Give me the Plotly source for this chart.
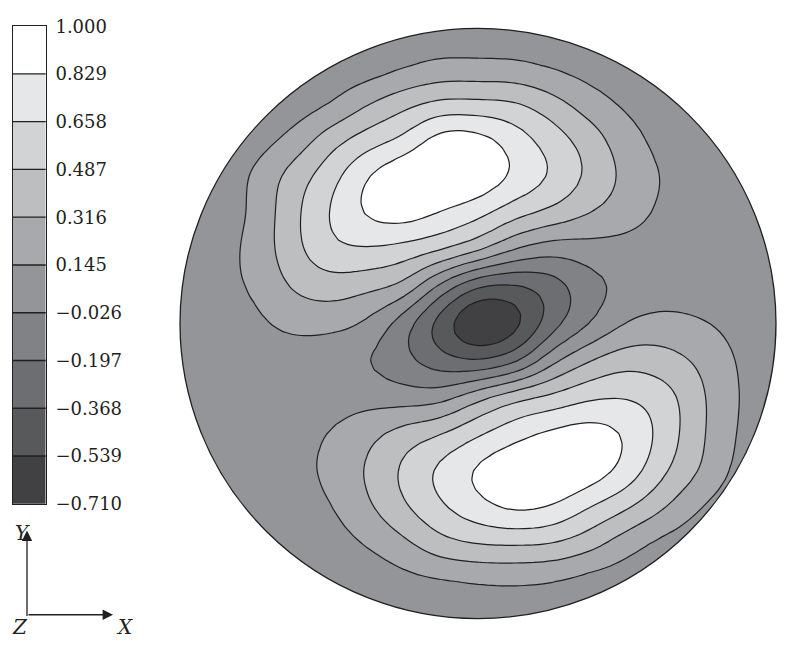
import numpy as np
import plotly.graph_objects as go

# Contour levels of the field; they are also the bands of the legend bar
levels = [-0.710, -0.539, -0.368, -0.197, -0.026, 0.145, 0.316, 0.487, 0.658, 0.829, 1.000]
band_colors = ["#414042", "#58595b", "#6d6e71", "#808285", "#939598",
               "#a7a9ac", "#bcbec0", "#d1d3d4", "#e6e7e8", "#ffffff"]
tick_labels = ["\u22120.710", "\u22120.539", "\u22120.368", "\u22120.197", "\u22120.026",
               "0.145", "0.316", "0.487", "0.658", "0.829", "1.000"]

# Sampling grid in normalised coordinates (the disc has radius 1)
x_grid = [-1.0, -0.875, -0.75, -0.625, -0.5, -0.375, -0.25, -0.125, 0.0,
          0.125, 0.25, 0.375, 0.5, 0.625, 0.75, 0.875, 1.0]
y_grid = [1.0, 0.875, 0.75, 0.625, 0.5, 0.375, 0.25, 0.125, 0.0,
          -0.125, -0.25, -0.375, -0.5, -0.625, -0.75, -0.875, -1.0]  # top row first

# Field values on the grid, one row per y_grid entry (left to right along x_grid)
field = [
    [0.03, 0.03, 0.03, 0.03, 0.03, 0.03, 0.03, 0.03, 0.03, 0.03, 0.03, 0.03, 0.03, 0.03, 0.03, 0.03, 0.03],
    [0.03, 0.03, 0.03, 0.03, 0.04, 0.05, 0.12, 0.18, 0.18, 0.17, 0.12, 0.07, 0.04, 0.03, 0.03, 0.03, 0.03],
    [0.03, 0.03, 0.03, 0.05, 0.13, 0.29, 0.42, 0.51, 0.51, 0.49, 0.37, 0.22, 0.11, 0.06, 0.03, 0.03, 0.03],
    [0.03, 0.03, 0.07, 0.19, 0.40, 0.56, 0.69, 0.90, 0.89, 0.74, 0.57, 0.40, 0.21, 0.09, 0.05, 0.03, 0.03],
    [0.03, 0.04, 0.17, 0.38, 0.58, 0.82, 0.97, 1.00, 0.96, 0.80, 0.64, 0.45, 0.27, 0.13, 0.07, 0.04, 0.03],
    [0.03, 0.05, 0.18, 0.43, 0.66, 0.85, 0.91, 0.82, 0.71, 0.55, 0.44, 0.32, 0.22, 0.11, 0.07, 0.05, 0.03],
    [0.04, 0.08, 0.20, 0.42, 0.61, 0.64, 0.59, 0.50, 0.35, 0.14, 0.04, 0.07, 0.08, 0.06, 0.05, 0.04, 0.03],
    [0.04, 0.10, 0.165, 0.33, 0.40, 0.36, 0.27, -0.08, -0.37, -0.40, -0.28, -0.09, 0.02, 0.04, 0.05, 0.05, 0.04],
    [0.04, 0.07, 0.11, 0.19, 0.20, 0.12, -0.12, -0.45, -0.72, -0.60, -0.27, -0.03, 0.15, 0.21, 0.16, 0.09, 0.04],
    [0.04, 0.05, 0.06, 0.06, 0.03, -0.02, -0.15, -0.30, -0.37, -0.24, 0.10, 0.31, 0.42, 0.38, 0.28, 0.13, 0.04],
    [0.04, 0.06, 0.06, 0.07, 0.07, 0.08, 0.06, 0.08, 0.27, 0.44, 0.53, 0.63, 0.65, 0.56, 0.34, 0.145, 0.04],
    [0.04, 0.05, 0.07, 0.09, 0.15, 0.26, 0.39, 0.49, 0.64, 0.77, 0.87, 0.91, 0.81, 0.59, 0.34, 0.13, 0.04],
    [0.03, 0.04, 0.05, 0.09, 0.18, 0.33, 0.52, 0.70, 0.86, 0.97, 1.00, 0.93, 0.76, 0.51, 0.30, 0.10, 0.03],
    [0.03, 0.03, 0.04, 0.07, 0.13, 0.28, 0.46, 0.63, 0.77, 0.86, 0.81, 0.65, 0.50, 0.32, 0.14, 0.04, 0.03],
    [0.03, 0.03, 0.03, 0.04, 0.07, 0.15, 0.27, 0.42, 0.48, 0.49, 0.47, 0.37, 0.21, 0.09, 0.04, 0.03, 0.03],
    [0.03, 0.03, 0.03, 0.03, 0.03, 0.04, 0.09, 0.12, 0.15, 0.16, 0.14, 0.08, 0.05, 0.03, 0.03, 0.03, 0.03],
    [0.03, 0.03, 0.03, 0.03, 0.03, 0.03, 0.03, 0.03, 0.03, 0.03, 0.03, 0.03, 0.03, 0.03, 0.03, 0.03, 0.03],
]

INK = "#231f20"
W, H = 789, 647
step = levels[1] - levels[0]


def cubic_resample(a, coords, factor, axis):
    """Catmull-Rom resampling of grid samples along one axis (for smooth isolines)."""
    a = np.asarray(a, dtype=float)
    n = a.shape[axis]
    t = np.linspace(0, n - 1, (n - 1) * factor + 1)
    i = np.clip(np.floor(t).astype(int), 0, n - 2)
    f = t - i
    clip = lambda k: np.clip(k, 0, n - 1)
    p0, p1, p2, p3 = (np.take(a, clip(i + d), axis=axis) for d in (-1, 0, 1, 2))
    f = f[:, None] if axis == 0 else f[None, :]
    out = 0.5 * (2 * p1 + (p2 - p0) * f + (2 * p0 - 5 * p1 + 4 * p2 - p3) * f ** 2
                 + (3 * p1 - p0 - 3 * p2 + p3) * f ** 3)
    return out, np.interp(t, np.arange(n), coords)


def soften(a, sigma=1.0, radius=3):
    """Light separable Gaussian pass on the resampled field."""
    k = np.exp(-0.5 * (np.arange(-radius, radius + 1) / sigma) ** 2)
    k /= k.sum()
    for axis in (0, 1):
        pad = [(0, 0), (0, 0)]
        pad[axis] = (radius, radius)
        ap = np.pad(a, pad, mode="edge")
        a = sum(w * np.take(ap, np.arange(j, j + a.shape[axis]), axis=axis)
                for j, w in enumerate(k))
    return a


z_rows = np.asarray(field[::-1])
y_up = y_grid[::-1]
z_s, y_s = cubic_resample(z_rows, y_up, 4, axis=0)
z_s, x_s = cubic_resample(z_s, x_grid, 4, axis=1)
z_s = soften(z_s, sigma=1.0)
z_s = np.clip(z_s, levels[0] + 0.002, levels[-1] - 0.002)

# Filled-contour colours: plotly samples the scale at band centres,
# i.e. at (k + 1) / n for band k, with n = number of levels.
n_lv = len(levels)
ext_colors = [band_colors[0]] + band_colors + [band_colors[-1]]
contour_scale = []
for idx, col in enumerate(ext_colors):
    lo = max(0.0, (idx - 0.5) / n_lv)
    hi = min(1.0, (idx + 0.5) / n_lv)
    contour_scale += [[lo, col], [hi, col]]

# Step scale for the legend bar (value space)
zlo, zhi = levels[0], levels[-1]
bar_scale = []
for i, col in enumerate(band_colors):
    bar_scale += [[(levels[i] - zlo) / (zhi - zlo), col],
                  [(levels[i + 1] - zlo) / (zhi - zlo), col]]
bar_mid = [[(levels[i] + levels[i + 1]) / 2] for i in range(len(band_colors))]

fig = go.Figure()

fig.add_trace(go.Contour(
    x=x_s, y=y_s, z=z_s,
    autocontour=False,
    contours=dict(start=levels[0], end=levels[-1] + 0.0005, size=step,
                  coloring="fill", showlines=True),
    colorscale=contour_scale, showscale=False,
    line=dict(color=INK, width=1.2, smoothing=0.6),
    hoverinfo="skip",
    xaxis="x", yaxis="y",
))

fig.add_trace(go.Heatmap(
    x=[0, 1], y=levels, z=bar_mid,
    colorscale=bar_scale, zmin=zlo, zmax=zhi, showscale=False,
    hoverinfo="skip", xaxis="x2", yaxis="y2",
))

# Disc geometry in pixels: centre (478, 323), radii 298 x 305
R_PAD = 1.01
cx, cy, rx, ry = 478.0, 323.0, 298.0, 305.0
xdom = [(cx - rx * R_PAD) / W, (cx + rx * R_PAD) / W]
ydom = [1 - (cy + ry * R_PAD) / H, 1 - (cy - ry * R_PAD) / H]

# White mask outside the unit circle
t = np.linspace(0, 2 * np.pi, 361)
circ = " ".join(("M" if k == 0 else "L") + f"{np.cos(a):.5f},{np.sin(a):.5f}" for k, a in enumerate(t))
rect = f"M{-R_PAD},{-R_PAD} L{R_PAD},{-R_PAD} L{R_PAD},{R_PAD} L{-R_PAD},{R_PAD} Z"
shapes = [
    dict(type="path", xref="x", yref="y", path=rect + " " + circ + " Z",
         fillcolor="white", fillrule="evenodd", line=dict(width=0), layer="above"),
    dict(type="circle", xref="x", yref="y", x0=-1, x1=1, y0=-1, y1=1,
         line=dict(color=INK, width=1.3), fillcolor="rgba(0,0,0,0)", layer="above"),
]
# Band separators in the legend bar
for lv in levels[1:-1]:
    shapes.append(dict(type="line", xref="x2 domain", yref="y2", x0=0, x1=1, y0=lv, y1=lv,
                       line=dict(color=INK, width=1.3), layer="above"))

# Axis triad (bottom left)
ox, oy = 27, 624
tip_y, tip_x = 537, 113
annotations = [
    dict(x=ox / W, y=1 - tip_y / H, xref="paper", yref="paper", ax=0, ay=oy - tip_y,
         text="", showarrow=True, arrowhead=2,
         arrowsize=1.6, arrowwidth=1.3, arrowcolor=INK, standoff=0, startstandoff=0),
    dict(x=tip_x / W, y=1 - oy / H, xref="paper", yref="paper", ax=-(tip_x - ox), ay=0,
         text="", showarrow=True, arrowhead=2,
         arrowsize=1.6, arrowwidth=1.3, arrowcolor=INK, standoff=0, startstandoff=0),
]
for label, lx, ly in [("Y", 22, 539), ("Z", 20, 637), ("X", 124, 637)]:
    annotations.append(dict(x=lx / W, y=1 - ly / H, xref="paper", yref="paper",
                            text=f"<i>{label}</i>", showarrow=False,
                            xanchor="center", yanchor="middle",
                            font=dict(family="DejaVu Serif", size=20, color=INK)))

fig.update_layout(
    width=W, height=H, margin=dict(l=0, r=0, t=0, b=0, pad=0),
    paper_bgcolor="white", plot_bgcolor="white", showlegend=False,
    xaxis=dict(domain=xdom, range=[-R_PAD, R_PAD], visible=False, fixedrange=True),
    yaxis=dict(domain=ydom, range=[-R_PAD, R_PAD], visible=False, fixedrange=True),
    xaxis2=dict(domain=[12.7 / W, 45.7 / W], range=[0, 1], anchor="y2",
                showticklabels=False, ticks="", showgrid=False, zeroline=False,
                showline=True, mirror=True, linecolor=INK, linewidth=1.3),
    yaxis2=dict(domain=[1 - 509.3 / H, 1 - 15.7 / H], range=[zlo, zhi], anchor="x2",
                side="right", tickmode="array", tickvals=levels, ticktext=tick_labels,
                ticks="outside", ticklen=5, tickcolor="rgba(0,0,0,0)",
                tickfont=dict(family="DejaVu Serif", size=18, color=INK),
                showgrid=False, zeroline=False,
                showline=True, mirror=True, linecolor=INK, linewidth=1.3),
    shapes=shapes, annotations=annotations,
)

fig.write_html("out.html")
